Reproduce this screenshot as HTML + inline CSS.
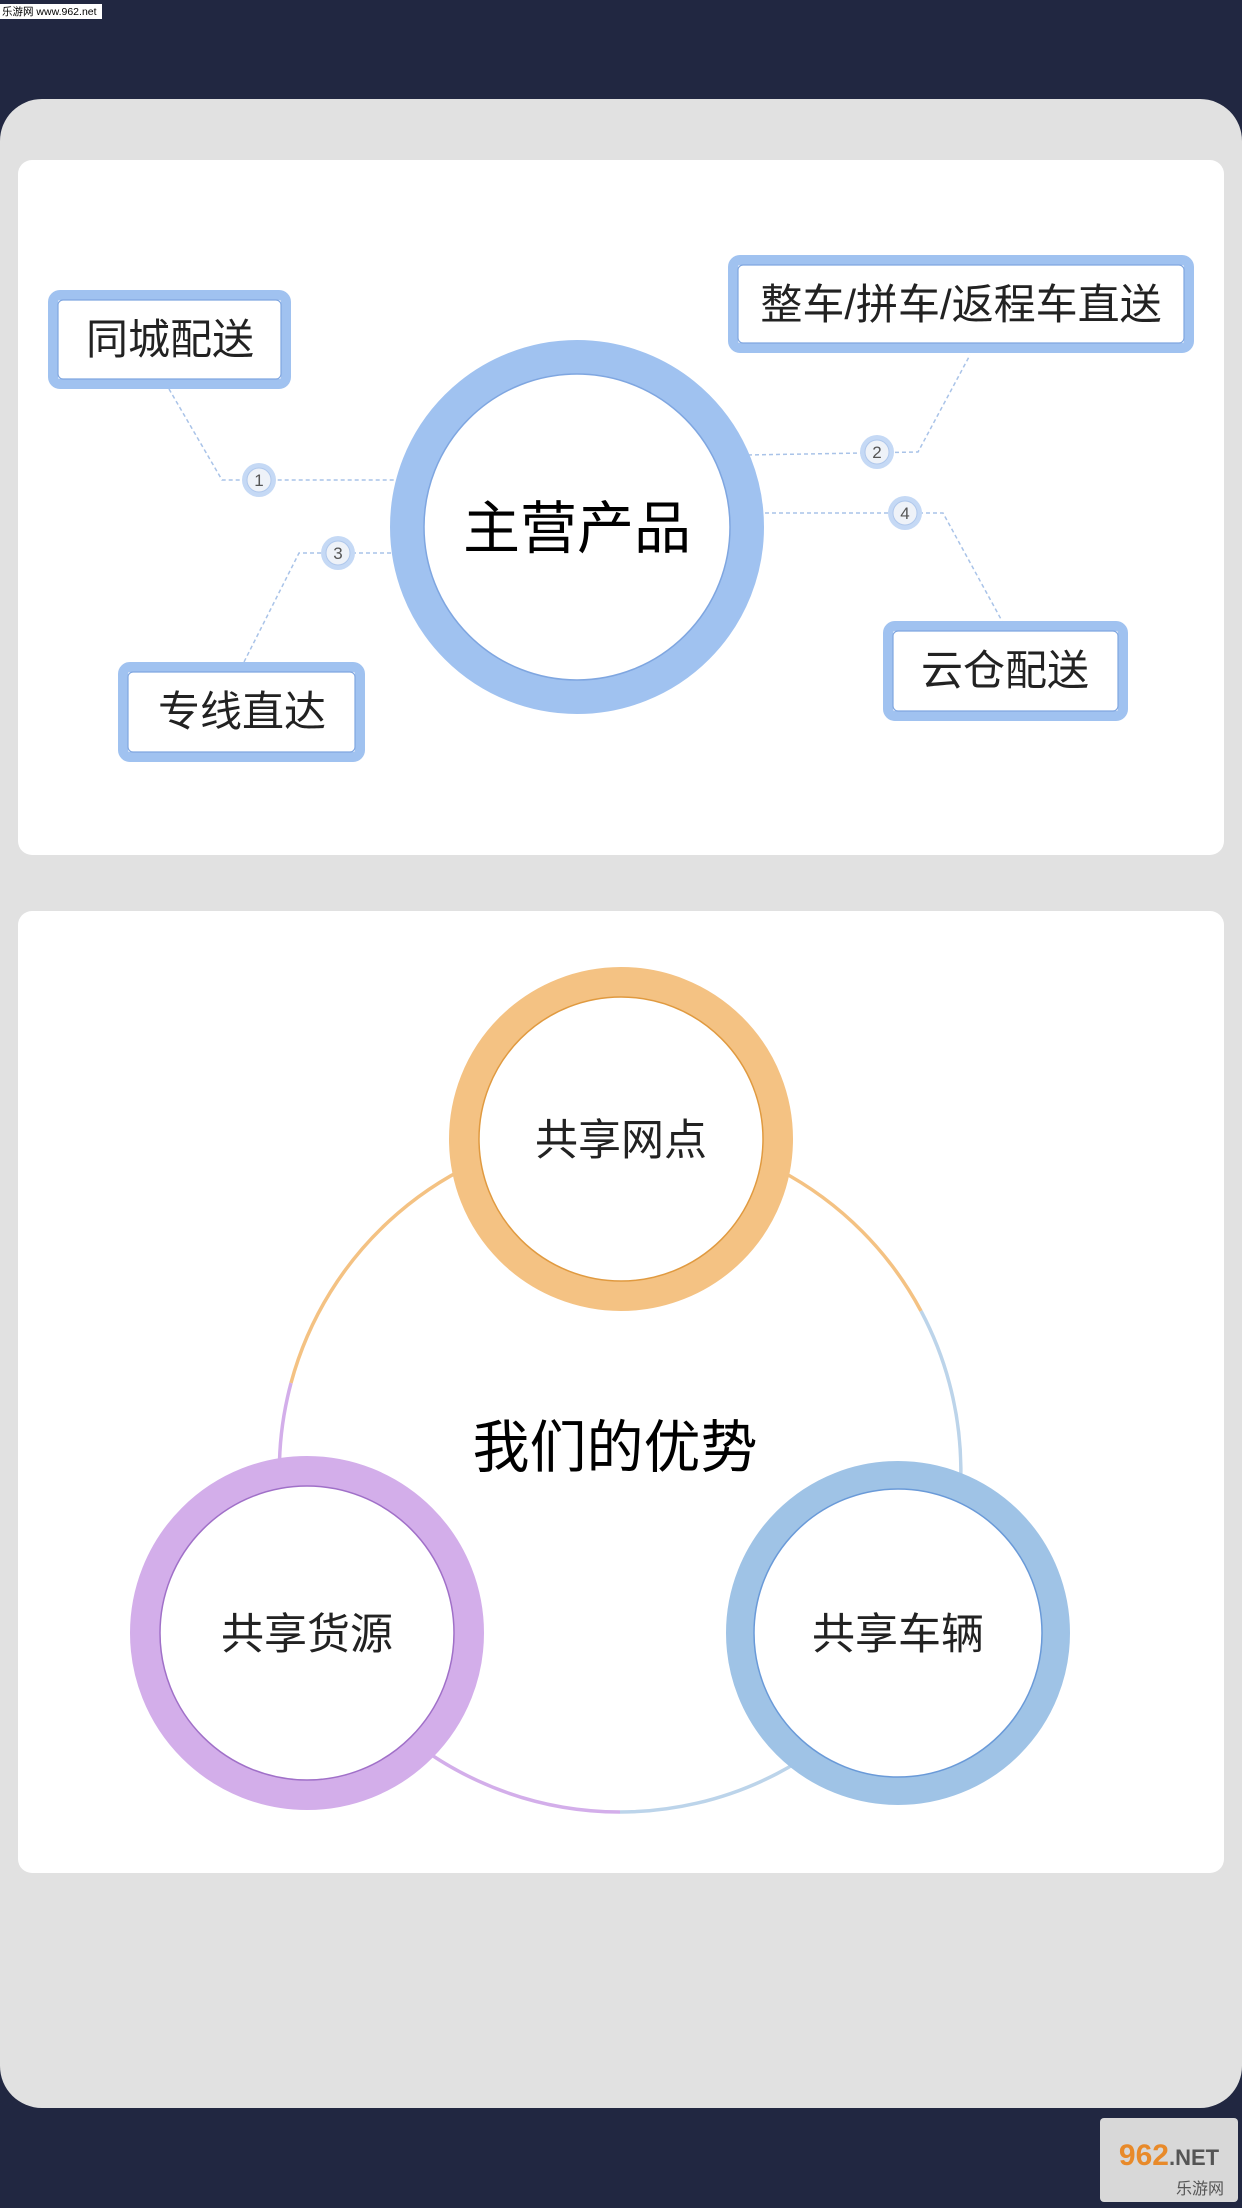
<!DOCTYPE html>
<html><head><meta charset="utf-8"><style>
html,body{margin:0;padding:0;background:#212741;}
body{width:1242px;height:2208px;position:relative;overflow:hidden;font-family:"Liberation Sans","Noto Sans CJK SC",sans-serif;}
svg{position:absolute;left:0;top:0;}
</style></head><body>
<svg width="1242" height="2208" viewBox="0 0 1242 2208" xmlns="http://www.w3.org/2000/svg" font-family="Liberation Sans, Noto Sans CJK SC, sans-serif">
<rect x="0" y="0" width="1242" height="2208" fill="#212741"/>
<rect x="0" y="99" width="1242" height="2009" rx="42" fill="#e1e1e1"/>
<rect x="18" y="160" width="1206" height="695" rx="14" fill="#fff"/>
<rect x="18" y="911" width="1206" height="962" rx="14" fill="#fff"/>
<!-- watermark -->
<rect x="0" y="4" width="102" height="15" fill="#fff"/>
<text x="2" y="15" font-size="10.5" fill="#000">乐游网 www.962.net</text>

<!-- dashed connectors -->
<g stroke="#a9c3e8" stroke-width="1.5" stroke-dasharray="4,3" fill="none">
<polyline points="169,389 222,480 396,480"/>
<polyline points="748,455 918,452 970,355"/>
<polyline points="391,553 299,553 244,662"/>
<polyline points="765,513 943,513 1002,621"/>
</g>
<!-- badges -->
<g font-size="17" fill="#555" text-anchor="middle">
<circle cx="259" cy="480" r="17" fill="#c5d9f5"/><circle cx="259" cy="480" r="12" fill="#eef2f8" stroke="#b0c8ec"/><text x="259" y="486">1</text>
<circle cx="877" cy="452" r="17" fill="#c5d9f5"/><circle cx="877" cy="452" r="12" fill="#eef2f8" stroke="#b0c8ec"/><text x="877" y="458">2</text>
<circle cx="338" cy="553" r="17" fill="#c5d9f5"/><circle cx="338" cy="553" r="12" fill="#eef2f8" stroke="#b0c8ec"/><text x="338" y="559">3</text>
<circle cx="905" cy="513" r="17" fill="#c5d9f5"/><circle cx="905" cy="513" r="12" fill="#eef2f8" stroke="#b0c8ec"/><text x="905" y="519">4</text>
</g>
<!-- main circle -->
<circle cx="577" cy="527" r="170" fill="none" stroke="#a0c2f0" stroke-width="34"/>
<circle cx="577" cy="527" r="153" fill="#fff" stroke="#7fa6e0" stroke-width="1.5"/>
<text x="577" y="548" font-size="57" text-anchor="middle" fill="#000">主营产品</text>
<!-- boxes -->
<g fill="#fff" stroke="#a0c2f0">
<rect x="53" y="295" width="233" height="89" rx="7" stroke-width="10"/>
<rect x="733" y="260" width="456" height="88" rx="7" stroke-width="10"/>
<rect x="123" y="667" width="237" height="90" rx="7" stroke-width="10"/>
<rect x="888" y="626" width="235" height="90" rx="7" stroke-width="10"/>
</g>
<g fill="#fff" stroke="#7fa6e0" stroke-width="1.2">
<rect x="58" y="300" width="223" height="79" rx="5"/>
<rect x="738" y="265" width="446" height="78" rx="5"/>
<rect x="128" y="672" width="227" height="80" rx="5"/>
<rect x="893" y="631" width="225" height="80" rx="5"/>
</g>
<g font-size="42" fill="#222" text-anchor="middle">
<text x="170" y="354">同城配送</text>
<text x="961" y="319">整车/拼车/返程车直送</text>
<text x="242" y="726">专线直达</text>
<text x="1005" y="685">云仓配送</text>
</g>

<!-- advantages ring -->
<g fill="none" stroke-width="3.5">
<path d="M 291 1383 A 341 341 0 0 1 921 1311" stroke="#f4c283"/>
<path d="M 921 1311 A 341 341 0 0 1 620 1812" stroke="#bcd4ea"/>
<path d="M 620 1812 A 341 341 0 0 1 291 1383" stroke="#d3aeea"/>
</g>
<circle cx="621" cy="1139" r="157" fill="none" stroke="#f4c283" stroke-width="30"/>
<circle cx="621" cy="1139" r="142" fill="#fff" stroke="#e09a40" stroke-width="1.5"/>
<circle cx="307" cy="1633" r="162" fill="none" stroke="#d3aeea" stroke-width="30"/>
<circle cx="307" cy="1633" r="147" fill="#fff" stroke="#a070c8" stroke-width="1.5"/>
<circle cx="898" cy="1633" r="158" fill="none" stroke="#9fc3e6" stroke-width="28"/>
<circle cx="898" cy="1633" r="144" fill="#fff" stroke="#6a9ad8" stroke-width="1.5"/>
<g font-size="43" fill="#222" text-anchor="middle">
<text x="621" y="1155">共享网点</text>
<text x="307" y="1649">共享货源</text>
<text x="898" y="1649">共享车辆</text>
</g>
<text x="615" y="1467" font-size="57" text-anchor="middle" fill="#000">我们的优势</text>

<!-- bottom logo -->
<rect x="1100" y="2118" width="138" height="84" rx="4" fill="#d8d8d8"/>
<text x="1169" y="2165" font-size="30" font-weight="bold" text-anchor="middle" fill="#e88a2a">962<tspan fill="#555" font-size="22">.NET</tspan></text>
<text x="1200" y="2194" font-size="16" text-anchor="middle" fill="#555">乐游网</text>
</svg>
</body></html>
